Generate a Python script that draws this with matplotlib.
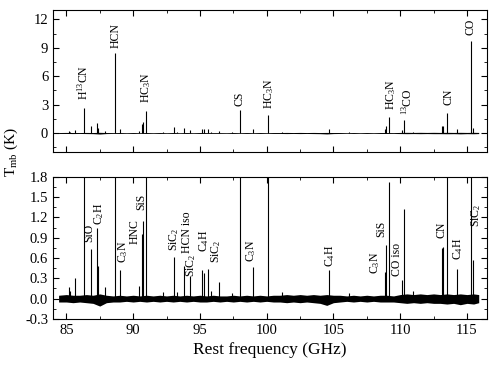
import matplotlib
matplotlib.use("Agg")
import matplotlib.pyplot as plt
from matplotlib.ticker import MultipleLocator, FormatStrFormatter

plt.rcParams['font.family'] = ['Liberation Serif', 'DejaVu Serif']
plt.rcParams['mathtext.fontset'] = 'custom'
plt.rcParams['mathtext.rm'] = 'Liberation Serif'
plt.rcParams['mathtext.it'] = 'Liberation Serif:italic'
plt.rcParams['axes.unicode_minus'] = False

# line peaks (GHz, K)
peak_freq = [85.17, 85.30, 85.62, 86.34, 86.85, 87.30, 87.40, 87.87, 88.63, 89.05,
             90.47, 90.67, 90.77, 90.98, 92.25, 93.05, 93.30, 93.78, 94.25, 95.18,
             95.28, 95.58, 95.80, 96.42, 97.40, 97.98, 98.97, 100.08, 101.15, 104.67,
             106.2, 108.88, 108.95, 109.17, 110.15, 110.25, 110.95, 113.12, 113.19, 113.53,
             114.22, 115.30, 115.43]
peak_height = [0.17, 0.12, 0.31, 2.68, 0.74, 1.05, 0.48, 0.17, 8.44, 0.43,
               0.18, 0.95, 1.15, 2.33, 0.10, 0.61, 0.10, 0.48, 0.34, 0.42,
               0.38, 0.44, 0.12, 0.24, 0.09, 2.44, 0.47, 1.90, 0.10, 0.43,
               0.08, 0.39, 0.79, 1.73, 0.28, 1.33, 0.12, 0.75, 0.77, 2.08,
               0.44, 9.67, 0.57]

# baseline noise envelope (K)
noise_freq = [84.42, 85.0, 85.5, 86.0, 86.5, 87.0, 87.5, 88.0, 88.5, 89.0,
              89.5, 90.0, 90.5, 91.0, 91.5, 92.0, 92.5, 93.0, 93.5, 94.0,
              94.5, 95.0, 95.5, 96.0, 96.5, 97.0, 97.5, 98.0, 98.5, 99.0,
              99.5, 100.0, 100.5, 101.0, 101.5, 102.0, 102.5, 103.0, 103.5, 104.0,
              104.5, 105.0, 105.5, 106.0, 106.5, 107.0, 107.5, 108.0, 108.5, 109.0,
              109.5, 110.0, 110.5, 111.0, 111.5, 112.0, 112.5, 113.0, 113.5, 114.0,
              114.5, 115.0, 115.5, 115.88]
noise_hi = [0.05, 0.06, 0.05, 0.05, 0.06, 0.05, 0.07, 0.05, 0.04, 0.05,
            0.04, 0.05, 0.04, 0.05, 0.04, 0.05, 0.04, 0.05, 0.04, 0.05,
            0.04, 0.05, 0.04, 0.05, 0.04, 0.04, 0.05, 0.04, 0.05, 0.04,
            0.05, 0.04, 0.05, 0.05, 0.06, 0.05, 0.06, 0.05, 0.06, 0.05,
            0.06, 0.05, 0.05, 0.04, 0.05, 0.04, 0.05, 0.04, 0.05, 0.05,
            0.04, 0.06, 0.07, 0.06, 0.07, 0.06, 0.07, 0.06, 0.07, 0.06,
            0.07, 0.06, 0.07, 0.06]
noise_lo = [-0.05, -0.05, -0.06, -0.05, -0.06, -0.07, -0.11, -0.06, -0.05, -0.05,
            -0.04, -0.05, -0.04, -0.05, -0.04, -0.05, -0.04, -0.05, -0.04, -0.05,
            -0.04, -0.05, -0.05, -0.04, -0.05, -0.04, -0.05, -0.04, -0.05, -0.04,
            -0.05, -0.04, -0.05, -0.05, -0.06, -0.05, -0.06, -0.05, -0.06, -0.07,
            -0.10, -0.06, -0.05, -0.04, -0.05, -0.04, -0.05, -0.04, -0.05, -0.05,
            -0.05, -0.06, -0.07, -0.06, -0.07, -0.06, -0.07, -0.07, -0.08, -0.07,
            -0.09, -0.07, -0.08, -0.06]

# labels: (text, freq, y) for each panel
top_labels = [("H$^{13}$CN", 86.3, 3.5), ("HCN", 88.7, 9.0), ("HC$_3$N", 91.0, 3.2),
              ("CS", 98.0, 2.9), ("HC$_3$N", 100.2, 2.5), ("HC$_3$N", 109.3, 2.4),
              ("$^{13}$CO", 110.5, 1.9), ("CN", 113.65, 3.0), ("CO", 115.27, 10.4)]
bot_labels = [("SiO", 86.72, 0.84), ("C$_2$H", 87.42, 1.09), ("C$_3$N", 89.22, 0.52),
              ("HNC", 90.1, 0.81), ("SiS", 90.6, 1.31), ("SiC$_2$", 93.1, 0.71),
              ("HCN iso", 94.05, 0.67), ("SiC$_2$", 94.35, 0.32), ("C$_4$H", 95.3, 0.69),
              ("SiC$_2$", 96.2, 0.52), ("C$_3$N", 98.8, 0.54), ("C$_4$H", 104.73, 0.47),
              ("C$_3$N", 108.1, 0.37), ("SiS", 108.55, 0.91), ("CO iso", 109.73, 0.34),
              ("CN", 113.1, 0.89), ("C$_4$H", 114.35, 0.57), ("SiC$_2$", 115.7, 1.06)]

fig = plt.figure(figsize=(5, 3.67), dpi=100)
ax1 = fig.add_axes([0.106, 0.586, 0.868, 0.387])
ax2 = fig.add_axes([0.106, 0.131, 0.868, 0.387])

for ax in (ax1, ax2):
    ax.fill_between(noise_freq, noise_lo, noise_hi, color='black', lw=0)
    ax.vlines(peak_freq, 0, peak_height, color='black', lw=0.8)
    ax.set_xlim(84, 116.5)
    ax.xaxis.set_major_locator(MultipleLocator(5))
    ax.xaxis.set_minor_locator(MultipleLocator(2.5))
    ax.tick_params(which='both', direction='in', top=True, right=True, labelsize=10.5)
    ax.tick_params(which='major', length=4)
    ax.tick_params(which='minor', length=2.5)

ax1.set_ylim(-2, 13)
ax1.yaxis.set_major_locator(MultipleLocator(3))
ax1.yaxis.set_minor_locator(MultipleLocator(1.5))
ax1.tick_params(labelbottom=False)

ax2.set_ylim(-0.3, 1.8)
ax2.yaxis.set_major_locator(MultipleLocator(0.3))
ax2.yaxis.set_minor_locator(MultipleLocator(0.15))
ax2.yaxis.set_major_formatter(FormatStrFormatter('%.1f'))
ax2.set_xlabel("Rest frequency (GHz)", fontsize=12.5)

for t, x, y in top_labels:
    ax1.text(x, y, t, rotation=90, ha='center', va='bottom', fontsize=8.5)
for t, x, y in bot_labels:
    ax2.text(x, y, t, rotation=90, ha='center', va='bottom', fontsize=8.5)

fig.text(0.022, 0.585, "T$_{\\rm mb}$ (K)", rotation=90, ha='center', va='center', fontsize=11)

fig.savefig("out.png", dpi=100)
